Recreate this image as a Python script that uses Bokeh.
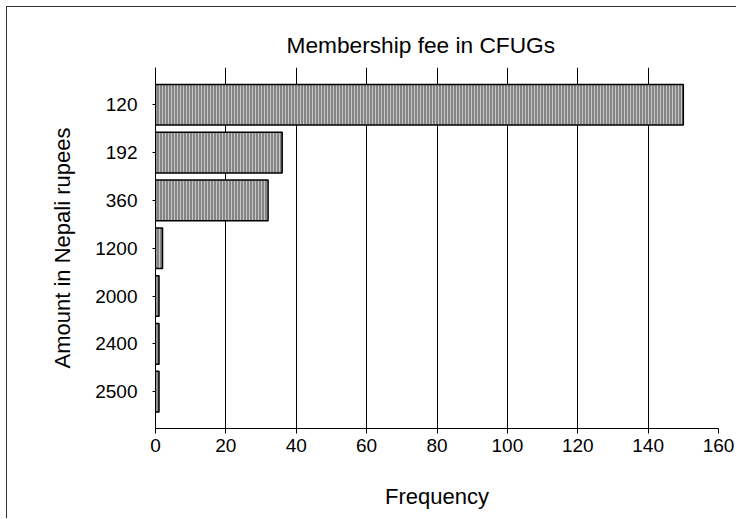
from bokeh.plotting import figure
from bokeh.models import Range1d, FixedTicker
from bokeh.embed import file_html
from bokeh.resources import INLINE

# Membership fee amounts (Nepali rupees) and how many CFUGs charge each
fees = ["120", "192", "360", "1200", "2000", "2400", "2500"]
frequency = [150, 36, 32, 2, 1, 1, 1]
x_ticks = [0, 20, 40, 60, 80, 100, 120, 140, 160]

positions = list(range(len(fees)))
FONT = "Liberation Sans"

p = figure(width=730, height=512, output_backend="svg", toolbar_location=None,
           x_range=Range1d(0, 160), y_range=Range1d(6.77, -0.78),
           min_border_left=148, min_border_right=19,
           min_border_top=60, min_border_bottom=91)
p.outline_line_color = None
p.background_fill_color = "white"
p.border_fill_color = "white"
p.styles = {"margin-left": "6px", "margin-top": "6px",
            "border-top": "1px solid #333333", "border-left": "1px solid #333333"}

# chart title
p.title.text = "Membership fee in CFUGs"
p.title.text_font = FONT
p.title.text_font_size = "22.7px"
p.title.text_font_style = "normal"
p.title.text_color = "black"
p.title.align = "left"
p.title.offset = 131
p.title.text_baseline = "alphabetic"
p.title.standoff = 20

# horizontal bars with a vertical-line hatch
p.hbar(y=positions, left=0, right=frequency, height=0.85,
       fill_color="#858585", line_color="black", line_width=1.5,
       hatch_pattern="vertical_line", hatch_color="#c6c6c6",
       hatch_scale=3, hatch_weight=1)

# vertical grid lines only
p.ygrid.visible = False
p.xgrid.ticker = FixedTicker(ticks=x_ticks)
p.xgrid.grid_line_color = "black"
p.xgrid.grid_line_alpha = 1.0
p.xgrid.grid_line_width = 1

for ax in (p.xaxis, p.yaxis):
    ax.axis_label_text_font = FONT
    ax.axis_label_text_font_size = "22px"
    ax.axis_label_text_font_style = "normal"
    ax.axis_label_text_color = "black"
    ax.major_label_text_font = FONT
    ax.major_label_text_font_size = "19px"
    ax.major_label_text_color = "black"
    ax.major_tick_in = 0
    ax.minor_tick_out = 0
    ax.minor_tick_in = 0
    ax.axis_line_color = "black"
    ax.major_tick_line_color = "black"

# x axis
p.xaxis.ticker = FixedTicker(ticks=x_ticks)
p.xaxis.axis_label = "Frequency"
p.xaxis.axis_label_standoff = 29
p.xaxis.major_label_standoff = 5
p.xaxis.major_tick_out = 5

# y axis with the fee amounts as labels
p.yaxis.ticker = FixedTicker(ticks=positions)
p.yaxis.major_label_overrides = {i: f for i, f in zip(positions, fees)}
p.yaxis.axis_label = "Amount in Nepali rupees"
p.yaxis.axis_label_standoff = 17
p.yaxis.major_label_standoff = 15
p.yaxis.major_tick_out = 3

open("out.html", "w").write(file_html(p, INLINE))
